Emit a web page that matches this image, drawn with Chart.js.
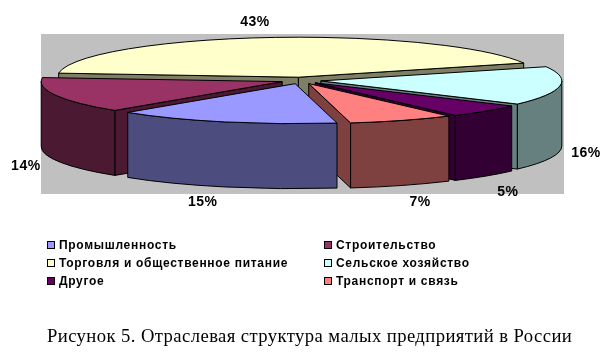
<!DOCTYPE html>
<html>
<head>
<meta charset="utf-8">
<script src="https://cdn.jsdelivr.net/npm/chart.js@4/dist/chart.umd.min.js"></script>
<style>
  body { margin: 0; background: #fff; overflow: hidden; }
  #wrap { position: relative; width: 615px; height: 354px; }
  #legend div { position: absolute; font: bold 12px "Liberation Sans", Arial, sans-serif; letter-spacing: 0.7px; color: #000; white-space: nowrap; line-height: 14px; }
  #legend i { position: absolute; left: -12px; top: 3px; width: 6px; height: 6px; border: 1px solid #000; }
  #caption { position: absolute; left: 47px; top: 325px; font: 18.67px "Liberation Serif", "Times New Roman", serif; letter-spacing: 0.41px; color: #000; white-space: nowrap; }
</style>
</head>
<body>
<div id="wrap">
  <canvas id="sectorChart" width="615" height="354"></canvas>
  <div id="legend"></div>
  <div id="caption">Рисунок 5. Отраслевая структура малых предприятий в России</div>
</div>
<script>
// Sector shares, in the order the pie runs clockwise (labels show them rounded)
const sectors = ['Промышленность', 'Строительство', 'Торговля и общественное питание', 'Сельское хозяйство', 'Другое', 'Транспорт и связь'];
const shares = [15, 14.4, 42.6, 15.6, 5.3, 7.1];
const sliceColors = ['#9999FF', '#993366', '#FFFFCC', '#CCFFFF', '#660066', '#FF8080'];

// Look of the flattened pie
const PIE_X = 301, PIE_Y = 80.5, TILT = 0.166, DEPTH = 65;
// back to front, so nearer slices cover the far ones
const paintOrder = [2, 3, 1, 4, 5, 0];
// where the percent labels sit, relative to the rim of their slice
const labelNudge = [[-22, 80], [-30, 71], [-12, -15], [26, 67], [22, 81], [18, 82]];

function shade(hex) {
    const n = parseInt(hex.slice(1), 16);
    const half = v => Math.floor(v / 2);
    return `rgb(${half(n >> 16)}, ${half((n >> 8) & 255)}, ${half(n & 255)})`;
}

const pie3d = {
    id: 'pie3d',
    beforeDatasetsDraw(chart) {
        const ctx = chart.ctx;
        const arcs = chart.getDatasetMeta(0).data;
        ctx.save();
        ctx.fillStyle = '#C0C0C0';
        ctx.fillRect(41, 34, 523, 160);
        ctx.lineWidth = 1;
        ctx.strokeStyle = '#000';
        ctx.lineJoin = 'round';

        paintOrder.forEach(i => {
            const arc = arcs[i];
            const s = arc.startAngle, e = arc.endAngle, r = arc.outerRadius;
            const mid = (s + e) / 2, off = arc.options.offset;
            const cx = PIE_X + Math.cos(mid) * off;
            const cy = PIE_Y + Math.sin(mid) * off * TILT;
            const rimX = a => cx + Math.cos(a) * r;
            const rimY = a => cy + Math.sin(a) * r * TILT;
            const wall = shade(sliceColors[i]);

            const face = a => {
                ctx.beginPath();
                ctx.moveTo(cx, cy);
                ctx.lineTo(rimX(a), rimY(a));
                ctx.lineTo(rimX(a), rimY(a) + DEPTH);
                ctx.lineTo(cx, cy + DEPTH);
                ctx.closePath();
                ctx.fillStyle = wall;
                ctx.fill();
                ctx.stroke();
            };
            if (Math.cos(s) < 0) face(s);
            if (Math.cos(e) > 0) face(e);

            // outer wall: only the part of the rim facing the viewer
            [0, 2 * Math.PI].forEach(k => {
                const a1 = Math.max(s, k), a2 = Math.min(e, k + Math.PI);
                if (a2 <= a1) return;
                ctx.beginPath();
                ctx.ellipse(cx, cy, r, r * TILT, 0, a1, a2);
                ctx.ellipse(cx, cy + DEPTH, r, r * TILT, 0, a2, a1, true);
                ctx.closePath();
                ctx.fillStyle = wall;
                ctx.fill();
                ctx.stroke();
            });

            ctx.beginPath();
            ctx.moveTo(cx, cy);
            ctx.ellipse(cx, cy, r, r * TILT, 0, s, e);
            ctx.closePath();
            ctx.fillStyle = sliceColors[i];
            ctx.fill();
            ctx.stroke();
        });

        // percent labels
        ctx.fillStyle = '#000';
        ctx.font = 'bold 14px "Liberation Sans", Arial, sans-serif';
        ctx.letterSpacing = '0.5px';
        ctx.textAlign = 'center';
        ctx.textBaseline = 'middle';
        arcs.forEach((arc, i) => {
            const mid = (arc.startAngle + arc.endAngle) / 2;
            const off = arc.options.offset + arc.outerRadius;
            const x = PIE_X + Math.cos(mid) * off + labelNudge[i][0];
            const y = PIE_Y + Math.sin(mid) * off * TILT + labelNudge[i][1];
            ctx.fillText(Math.round(shares[i]) + '%', x, y);
        });
        ctx.restore();
        return false; // slices are painted above
    }
};

const ctxSectors = document.getElementById('sectorChart').getContext('2d');
const sectorChart = new Chart(ctxSectors, {
    type: 'pie',
    data: {
        labels: sectors,
        datasets: [{
            data: shares,
            backgroundColor: sliceColors,
            borderColor: '#000',
            borderWidth: 1,
            offset: 20
        }]
    },
    options: {
        responsive: false,
        animation: false,
        radius: 241,
        rotation: 170,
        plugins: { legend: { display: false }, tooltip: { enabled: false } }
    },
    plugins: [pie3d]
});

// Legend, two columns filled row by row
const legendBox = document.getElementById('legend');
sectors.forEach((name, i) => {
    const item = document.createElement('div');
    item.style.left = (i % 2 ? 336 : 59) + 'px';
    item.style.top = (238 + Math.floor(i / 2) * 18) + 'px';
    item.innerHTML = `<i style="background:${sliceColors[i]}"></i>${name}`;
    legendBox.appendChild(item);
});
</script>
</body>
</html>
